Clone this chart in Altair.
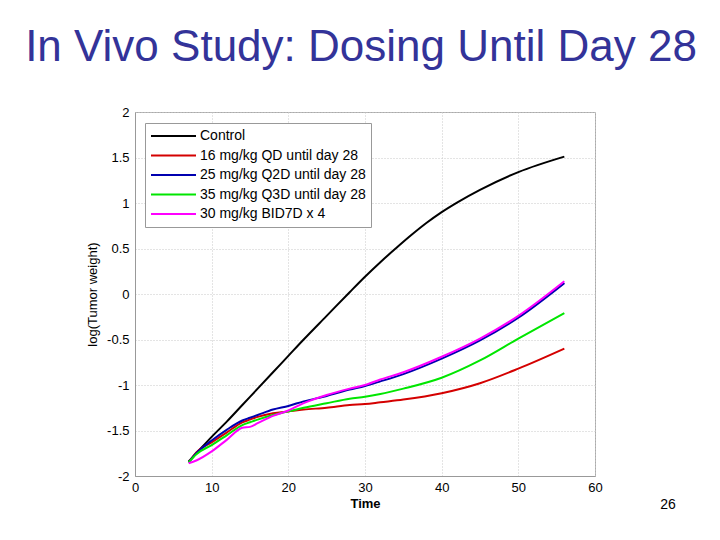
import altair as alt
import pandas as pd

control_time = [7, 8, 10, 12, 14, 16, 18, 20, 22, 25, 28, 30, 32, 34, 36, 38, 40, 42, 45, 50, 56]
control = [-1.84, -1.75, -1.57, -1.40, -1.22, -1.04, -0.86, -0.68, -0.50, -0.24, 0.02, 0.19, 0.35, 0.50, 0.645, 0.78, 0.90, 1.005, 1.145, 1.34, 1.51]

treated_time = [7, 8, 10, 12, 14, 15, 16, 18, 20, 22, 25, 28, 30, 32, 35, 40, 45, 50, 56]
qd16 = [-1.85, -1.74, -1.63, -1.52, -1.41, -1.38, -1.35, -1.31, -1.29, -1.27, -1.25, -1.22, -1.21, -1.19, -1.16, -1.09, -0.98, -0.82, -0.60]
q2d25 = [-1.85, -1.75, -1.61, -1.49, -1.39, -1.36, -1.33, -1.27, -1.23, -1.18, -1.12, -1.05, -1.01, -0.96, -0.88, -0.71, -0.51, -0.26, 0.12]
q3d35 = [-1.85, -1.76, -1.66, -1.55, -1.44, -1.41, -1.38, -1.33, -1.29, -1.25, -1.20, -1.15, -1.13, -1.10, -1.04, -0.92, -0.73, -0.49, -0.21]
bid30 = [-1.86, -1.83, -1.73, -1.60, -1.47, -1.46, -1.42, -1.34, -1.28, -1.20, -1.11, -1.04, -1.00, -0.94, -0.86, -0.69, -0.49, -0.24, 0.14]

series_names = [
    "Control",
    "16 mg/kg QD until day 28",
    "25 mg/kg Q2D until day 28",
    "35 mg/kg Q3D until day 28",
    "30 mg/kg BID7D x 4",
]
series_times = [control_time, treated_time, treated_time, treated_time, treated_time]
series_values = [control, qd16, q2d25, q3d35, bid30]
colors = ["#000000", "#d40000", "#0000b0", "#00e600", "#ff00ff"]

x_ticks = [0, 10, 20, 30, 40, 50, 60]
y_ticks = [-2, -1.5, -1, -0.5, 0, 0.5, 1, 1.5, 2]

rows = []
for i, (name, ts, vals) in enumerate(zip(series_names, series_times, series_values)):
    for t, v in zip(ts, vals):
        rows.append({"Time": t, "value": v, "series": name, "k": i})
df = pd.DataFrame(rows)

FONT = "Liberation Sans"

lines = alt.Chart(df).mark_line(strokeWidth=2, interpolate="monotone").encode(
    x=alt.X("Time:Q", scale=alt.Scale(domain=[0, 60], nice=False),
            axis=alt.Axis(values=x_ticks, title="Time", titleFontWeight="bold",
                          labelPadding=5, titlePadding=3, labelFlush=False)),
    y=alt.Y("value:Q", scale=alt.Scale(domain=[-2, 2], nice=False),
            axis=alt.Axis(values=y_ticks, labelExpr="toString(datum.value)",
                          title="log(Tumor weight)", titleFontWeight="normal",
                          labelPadding=6, titlePadding=7, labelFlush=False)),
    color=alt.Color("series:N", scale=alt.Scale(domain=series_names, range=colors),
                    legend=alt.Legend(title=None, orient="none", legendX=10, legendY=11,
                                      symbolType="stroke", symbolStrokeWidth=2,
                                      symbolSize=2025, labelFontSize=14, labelFont=FONT,
                                      labelLimit=400, clipHeight=16,
                                      labelOffset=3, fillColor="white", strokeColor="#999999",
                                      padding=5, rowPadding=3.5)),
    order=alt.Order("k:Q"),
)

page = alt.Chart(alt.Data(values=[{"t": "26"}])).mark_text(
    fontSize=14, font=FONT, align="center", baseline="middle", color="black"
).encode(text="t:N", x=alt.value(533), y=alt.value(393))

chart = alt.layer(lines, page).properties(
    width=460, height=364,
    title=alt.TitleParams("In Vivo Study: Dosing Until Day 28", fontSize=44, font=FONT,
                          color="#333399", fontWeight="normal", anchor="middle",
                          baseline="alphabetic", offset=1, dx=-4),
    autosize=alt.AutoSizeParams(type="none"),
    padding={"left": 127, "top": 104, "right": 105, "bottom": 45},
).configure_view(stroke="#aaaaaa", strokeWidth=1).configure_axis(
    labelFont=FONT, titleFont=FONT, labelFontSize=13, titleFontSize=13,
    labelColor="black", titleColor="black", domainColor="#999999",
    ticks=False, gridColor="#c8c8c8", gridDash=[1, 2], gridWidth=1,
)

chart.save("out.html", embed_options={"renderer": "svg", "actions": False})
